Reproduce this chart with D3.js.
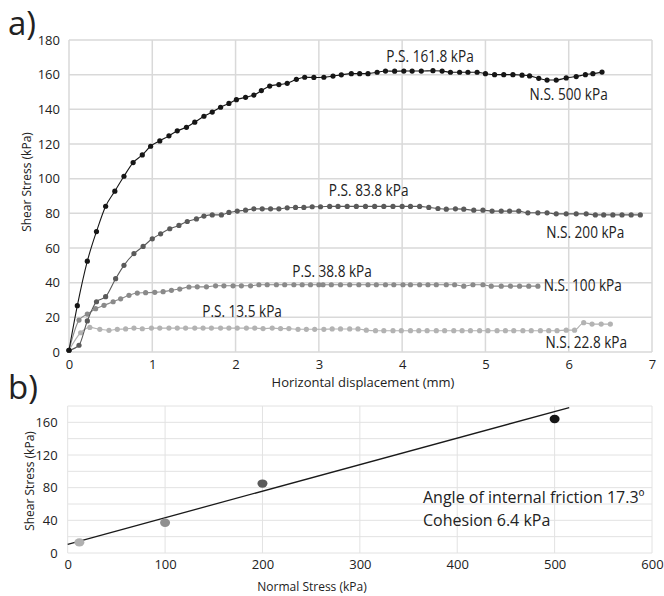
<!DOCTYPE html>
<html>
<head>
<meta charset="utf-8">
<script src="https://cdn.jsdelivr.net/npm/d3@7"></script>
<style>
body { margin: 0; background: #fff; }
text { font-family: 'Open Sans', sans-serif; fill: #222; }
.note { font-family: 'Open Sans', sans-serif; font-size: 17px; }
</style>
</head>
<body>
<svg id="chart" width="664" height="596"></svg>
<script>
// ---- data (panel a: shear stress vs displacement) ----
var xTicksA = [0, 1, 2, 3, 4, 5, 6, 7];
var yTicksA = [0, 20, 40, 60, 80, 100, 120, 140, 160, 180];

var ns500 = [[0,1],[0.10,26.7],[0.22,52.4],[0.33,69.5],[0.44,84.1],[0.55,92.8],[0.66,101.4],[0.77,109.3],[0.88,113.7],[0.98,118.7],
  [1.09,121.8],[1.20,124.7],[1.30,127.6],[1.41,129.6],[1.51,132.6],[1.62,136.0],[1.72,138.4],[1.82,141.2],[1.92,143.4],[2.01,145.6],
  [2.12,146.9],[2.22,148.2],[2.31,150.8],[2.41,153.4],[2.52,154.3],[2.62,155.0],[2.73,157.3],[2.83,158.5],[2.94,158.4],[3.06,158.5],
  [3.17,159.2],[3.27,159.9],[3.39,160.6],[3.49,160.6],[3.59,160.6],[3.70,161.4],[3.80,162.1],[3.91,162.0],[4.02,162.1],[4.12,162.1],
  [4.23,162.1],[4.37,162.3],[4.48,162.1],[4.58,161.4],[4.69,161.4],[4.79,161.4],[4.90,161.4],[5.00,160.6],[5.11,160.0],[5.22,160.0],
  [5.33,160.0],[5.44,159.7],[5.53,159.3],[5.64,157.9],[5.74,156.9],[5.85,156.9],[5.97,158.1],[6.09,158.9],[6.20,160.0],[6.29,160.6],
  [6.40,161.5]];

var ns200 = [[0,1],[0.12,3.9],[0.22,17.9],[0.33,29.0],[0.44,31.9],[0.56,42.3],[0.66,50.0],[0.78,56.7],[0.89,60.9],[1.00,65.3],
  [1.10,68.2],[1.21,71.1],[1.32,73.0],[1.42,75.3],[1.53,76.8],[1.62,78.4],[1.72,79.1],[1.83,79.1],[1.92,80.5],[2.02,81.3],
  [2.12,81.8],[2.22,82.6],[2.32,82.6],[2.42,82.6],[2.52,82.6],[2.62,83.2],[2.72,83.4],[2.82,83.4],[2.92,83.8],[3.02,83.8],
  [3.13,84.0],[3.23,84.0],[3.34,84.0],[3.45,84.0],[3.56,84.0],[3.67,84.0],[3.78,84.0],[3.89,84.0],[4.00,84.0],[4.10,84.0],
  [4.21,84.0],[4.32,83.4],[4.43,82.8],[4.53,82.4],[4.64,82.6],[4.74,82.4],[4.86,81.8],[4.97,81.8],[5.08,81.3],[5.19,81.3],
  [5.29,81.3],[5.40,81.3],[5.51,80.3],[5.63,80.3],[5.74,80.3],[5.85,79.7],[5.97,79.7],[6.09,79.7],[6.21,79.7],[6.32,79.1],
  [6.42,79.1],[6.53,79.1],[6.64,79.1],[6.75,79.1],[6.86,79.1]];

var ns100 = [[0,1],[0.12,18.4],[0.22,21.9],[0.32,25.0],[0.42,26.9],[0.53,29.0],[0.62,30.7],[0.72,32.7],[0.82,34.0],[0.92,34.2],
  [1.03,34.4],[1.13,34.8],[1.23,35.6],[1.33,36.3],[1.44,37.5],[1.54,37.6],[1.65,37.6],[1.76,38.2],[1.86,38.2],[1.97,38.2],
  [2.07,38.2],[2.18,38.2],[2.28,38.8],[2.38,38.8],[2.49,38.8],[2.59,38.8],[2.70,38.8],[2.80,38.8],[2.90,38.8],[3.00,38.8],
  [3.05,38.8],[3.15,38.8],[3.26,38.8],[3.37,38.8],[3.48,38.8],[3.59,38.8],[3.69,38.8],[3.80,38.8],[3.90,38.8],[4.01,38.8],
  [4.10,38.8],[4.21,38.8],[4.31,38.8],[4.41,38.8],[4.53,38.8],[4.63,38.8],[4.74,38.0],[4.85,38.8],[4.97,38.8],[5.07,38.0],
  [5.19,38.0],[5.30,38.0],[5.41,38.0],[5.52,38.0],[5.63,38.0]];

var ns22 = [[0,1],[0.14,11.1],[0.25,14.2],[0.37,13.1],[0.48,12.5],[0.58,13.1],[0.68,13.3],[0.78,13.8],[0.88,13.4],[0.99,13.8],
  [1.09,13.8],[1.20,13.8],[1.30,13.8],[1.40,13.8],[1.51,13.8],[1.61,13.8],[1.71,13.8],[1.82,13.8],[1.92,13.8],[2.02,13.8],
  [2.13,13.8],[2.23,13.8],[2.33,13.5],[2.44,13.8],[2.54,13.5],[2.64,13.5],[2.75,13.1],[2.85,13.1],[2.95,13.1],[3.06,13.1],
  [3.16,13.3],[3.26,13.3],[3.37,13.3],[3.47,13.3],[3.57,12.6],[3.68,12.3],[3.78,12.3],[3.89,12.3],[3.99,12.3],[4.10,12.3],
  [4.20,12.3],[4.30,12.3],[4.41,12.3],[4.51,12.3],[4.62,12.3],[4.72,12.3],[4.82,12.3],[4.93,12.3],[5.03,12.3],[5.14,12.3],
  [5.24,12.3],[5.34,12.3],[5.45,12.3],[5.55,12.3],[5.66,12.3],[5.76,12.3],[5.86,12.3],[5.97,12.6],[6.07,12.6],[6.18,16.9],
  [6.28,16.1],[6.39,16.1],[6.50,16.1]];

var peakLabels = ['P.S. 161.8 kPa', 'P.S. 83.8 kPa', 'P.S. 38.8 kPa', 'P.S. 13.5 kPa'];
var normalLabels = ['N.S. 500 kPa', 'N.S. 200 kPa', 'N.S. 100 kPa', 'N.S. 22.8 kPa'];

// ---- data (panel b: failure envelope) ----
var xTicksB = [0, 100, 200, 300, 400, 500, 600];
var yGridB = [0, 20, 40, 60, 80, 100, 120, 140, 160, 180];
var yTicksB = [0, 40, 80, 120, 160];
var normalStress = [12, 100, 200, 500];
var peakStress = [13, 37, 85, 164];
var fitIntercept = 10.7;
var fitSlope = 0.325;
var fitRange = [0, 515];

var svg = d3.select('#chart');

// ================= panel a =================
var xA = d3.scaleLinear().domain([0, 7]).range([69, 652]);
var yA = d3.scaleLinear().domain([0, 180]).range([352, 40]);

var gridA = svg.append('g');
gridA.selectAll('line.h')
  .data(yTicksA).enter()
  .append('line')
    .attr('x1', xA(0)).attr('x2', xA(7))
    .attr('y1', d => yA(d)).attr('y2', d => yA(d))
    .attr('stroke', '#d9d9d9').attr('stroke-width', 1.5);
gridA.selectAll('line.v')
  .data(xTicksA).enter()
  .append('line')
    .attr('y1', yA(0)).attr('y2', yA(180))
    .attr('x1', d => xA(d)).attr('x2', d => xA(d))
    .attr('stroke', '#d9d9d9').attr('stroke-width', 1.5);

var axA_y = svg.append('g')
  .attr('transform', 'translate(' + xA(0) + ',0)')
  .call(d3.axisLeft(yA).tickValues(yTicksA).tickSize(0).tickPadding(9));
var axA_x = svg.append('g')
  .attr('transform', 'translate(0,' + yA(0) + ')')
  .call(d3.axisBottom(xA).tickValues(xTicksA).tickFormat(d3.format('d')).tickSize(0).tickPadding(8));
[axA_y, axA_x].forEach(function(g) {
  g.select('.domain').remove();
  g.selectAll('text').style('font-family', "'Open Sans', sans-serif").style('font-size', '13px').attr('fill', '#222');
});

var line = d3.line()
  .x(function(d) { return xA(d[0]); })
  .y(function(d) { return yA(d[1]); })
  .curve(d3.curveMonotoneX);

var seriesA = [
  { data: ns22, color: '#b3b3b3' },
  { data: ns100, color: '#8a8a8a' },
  { data: ns200, color: '#5a5a5a' },
  { data: ns500, color: '#161616' }
];

seriesA.forEach(function(s) {
  var g = svg.append('g');
  g.append('path')
    .attr('d', line(s.data))
    .attr('fill', 'none')
    .attr('stroke', s.color)
    .attr('stroke-width', 1.1);
  g.selectAll('circle')
    .data(s.data).enter()
    .append('circle')
      .attr('cx', d => xA(d[0]))
      .attr('cy', d => yA(d[1]))
      .attr('r', 2.6)
      .attr('fill', s.color);
});

// curve labels, placed in data units; squeezed to mimic the condensed face
var peakPos = [[3.81, 167.1], [3.12, 89.9], [2.68, 43.4], [1.60, 20.0]];
var normalPos = [[5.53, 145.6], [5.73, 65.5], [5.70, 35.2], [5.72, 2.5]];
function squeeze(sel) {
  sel.each(function() {
    var w = this.getComputedTextLength();
    d3.select(this).attr('textLength', w * 0.8).attr('lengthAdjust', 'spacingAndGlyphs');
  });
}
svg.append('g').selectAll('text')
  .data(peakLabels).enter()
  .append('text')
    .attr('class', 'note')
    .attr('x', (d, i) => xA(peakPos[i][0]))
    .attr('y', (d, i) => yA(peakPos[i][1]))
    .text(d => d)
    .call(squeeze);
svg.append('g').selectAll('text')
  .data(normalLabels).enter()
  .append('text')
    .attr('class', 'note')
    .attr('x', (d, i) => xA(normalPos[i][0]))
    .attr('y', (d, i) => yA(normalPos[i][1]))
    .text(d => d)
    .call(squeeze);

svg.append('text')
  .attr('x', 363).attr('y', 387)
  .attr('text-anchor', 'middle')
  .style('font-size', '13px')
  .text('Horizontal displacement (mm)');
svg.append('text')
  .attr('transform', 'translate(31,182) rotate(-90)')
  .attr('text-anchor', 'middle')
  .style('font-size', '12px')
  .text('Shear Stress (kPa)');
svg.append('text')
  .attr('x', 8).attr('y', 35)
  .style('font-size', '33px')
  .text('a)');

// ================= panel b =================
var xB = d3.scaleLinear().domain([0, 600]).range([67.7, 652]);
var yB = d3.scaleLinear().domain([0, 180]).range([553, 406]);

var gridB = svg.append('g');
gridB.selectAll('line.h')
  .data(yGridB).enter()
  .append('line')
    .attr('x1', xB(0)).attr('x2', xB(600))
    .attr('y1', d => yB(d)).attr('y2', d => yB(d))
    .attr('stroke', '#e2e2e2').attr('stroke-width', 1);
gridB.selectAll('line.v')
  .data(xTicksB).enter()
  .append('line')
    .attr('y1', yB(0)).attr('y2', yB(180))
    .attr('x1', d => xB(d)).attr('x2', d => xB(d))
    .attr('stroke', '#e2e2e2').attr('stroke-width', 1);

var axB_y = svg.append('g')
  .attr('transform', 'translate(' + xB(0) + ',0)')
  .call(d3.axisLeft(yB).tickValues(yTicksB).tickSize(0).tickPadding(10));
var axB_x = svg.append('g')
  .attr('transform', 'translate(0,' + yB(0) + ')')
  .call(d3.axisBottom(xB).tickValues(xTicksB).tickSize(0).tickPadding(7));
[axB_y, axB_x].forEach(function(g) {
  g.select('.domain').remove();
  g.selectAll('text').style('font-family', "'Open Sans', sans-serif").style('font-size', '13px').attr('fill', '#222');
});

svg.append('line')
  .attr('x1', xB(fitRange[0])).attr('y1', yB(fitIntercept + fitSlope * fitRange[0]))
  .attr('x2', xB(fitRange[1])).attr('y2', yB(fitIntercept + fitSlope * fitRange[1]))
  .attr('stroke', '#1a1a1a').attr('stroke-width', 1.3);

var pointColors = ['#b0b0b0', '#8f8f8f', '#5a5a5a', '#161616'];
svg.append('g').selectAll('ellipse')
  .data(normalStress).enter()
  .append('ellipse')
    .attr('cx', d => xB(d))
    .attr('cy', (d, i) => yB(peakStress[i]))
    .attr('rx', 5).attr('ry', 4.2)
    .attr('fill', (d, i) => pointColors[i]);

svg.append('text')
  .attr('x', 423).attr('y', 503)
  .style('font-size', '16px')
  .text('Angle of internal friction 17.3º');
svg.append('text')
  .attr('x', 423).attr('y', 526)
  .style('font-size', '16px')
  .text('Cohesion 6.4 kPa');

svg.append('text')
  .attr('x', 312).attr('y', 591)
  .attr('text-anchor', 'middle')
  .style('font-size', '12px')
  .text('Normal Stress (kPa)');
svg.append('text')
  .attr('transform', 'translate(34,481) rotate(-90)')
  .attr('text-anchor', 'middle')
  .style('font-size', '12px')
  .text('Shear Stress (kPa)');
svg.append('text')
  .attr('x', 8).attr('y', 399)
  .style('font-size', '33px')
  .text('b)');
</script>
</body>
</html>
